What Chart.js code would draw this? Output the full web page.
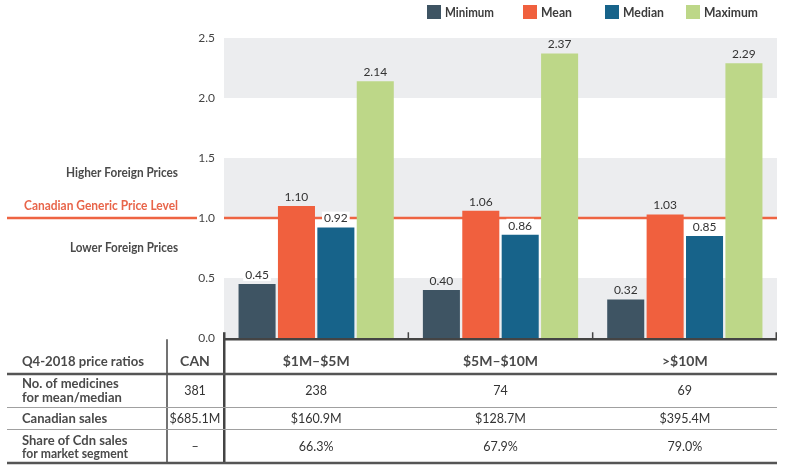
<!DOCTYPE html>
<html>
<head>
<meta charset="utf-8">
<script src="https://cdn.jsdelivr.net/npm/chart.js@4/dist/chart.umd.min.js"></script>
<style>
  html, body { margin: 0; padding: 0; background: #ffffff; }
  #wrap { width: 787px; height: 469px; position: relative; }
</style>
</head>
<body>
<div id="wrap"><canvas id="c" width="787" height="469"></canvas></div>
<script>
// ---------- data ----------
const categories = ['$1M–$5M', '$5M–$10M', '>$10M'];
const seriesNames = ['Minimum', 'Mean', 'Median', 'Maximum'];
const minimumValues = [0.45, 0.40, 0.32];
const meanValues = [1.10, 1.06, 1.03];
const medianValues = [0.92, 0.86, 0.85];
const maximumValues = [2.14, 2.37, 2.29];
const yTicks = [0.0, 0.5, 1.0, 1.5, 2.0, 2.5];
const referenceLevel = 1.0;

// table data
const tableHeader = 'Q4-2018 price ratios';
const canHeader = 'CAN';
const rowLabels = [['No. of medicines', 'for mean/median'], ['Canadian sales'], ['Share of Cdn sales', 'for market segment']];
const canValues = ['381', '$685.1M', '–'];
const medicineCounts = ['238', '74', '69'];
const canadianSales = ['$160.9M', '$128.7M', '$395.4M'];
const salesShares = ['66.3%', '67.9%', '79.0%'];

// ---------- styles ----------
const colors = ['#3E5463', '#F0603E', '#17638A', '#BDD788'];
const FONT = 'Lato, "Open Sans", sans-serif';
const bandColor = '#ECEDEF';
const lineColor = '#EE6442';
const darkText = '#4A4A4A';

const datasets = [minimumValues, meanValues, medianValues, maximumValues].map((vals, i) => ({
  label: seriesNames[i],
  data: vals,
  backgroundColor: colors[i],
  borderWidth: 0,
  categoryPercentage: 0.855,
  barPercentage: 0.94
}));

function inBand(v) {
  return (v >= 0 && v <= 0.5) || (v >= 1.0 && v <= 1.5) || (v >= 2.0 && v <= 2.5);
}

const backgroundPlugin = {
  id: 'bg',
  beforeDatasetsDraw(chart) {
    const ctx = chart.ctx, a = chart.chartArea, y = chart.scales.y;
    ctx.save();
    // gray bands
    ctx.fillStyle = bandColor;
    for (let i = 0; i < yTicks.length - 1; i += 2) {
      const y0 = y.getPixelForValue(yTicks[i]);
      const y1 = y.getPixelForValue(yTicks[i + 1]);
      ctx.fillRect(a.left, y1, a.right - a.left, y0 - y1);
    }
    // reference line
    const ly = y.getPixelForValue(referenceLevel);
    ctx.strokeStyle = lineColor;
    ctx.lineWidth = 2.5;
    ctx.beginPath();
    ctx.moveTo(7, ly); ctx.lineTo(a.left - 27, ly);
    ctx.moveTo(a.left, ly); ctx.lineTo(a.right, ly);
    ctx.stroke();
    // side annotations
    ctx.textAlign = 'right';
    ctx.textBaseline = 'middle';
    ctx.font = 'bold 13px ' + FONT;
    ctx.fillStyle = darkText;
    ctx.fillText('Higher Foreign Prices', 178, ly - 45, 112);
    ctx.fillText('Lower Foreign Prices', 178, ly + 30, 108);
    ctx.fillStyle = '#E8654A';
    ctx.fillText('Canadian Generic Price Level', 178, ly - 12, 154);
    ctx.restore();
  }
};

const overlayPlugin = {
  id: 'overlay',
  afterDatasetsDraw(chart) {
    const ctx = chart.ctx, a = chart.chartArea, y = chart.scales.y, x = chart.scales.x;
    ctx.save();
    // value labels
    ctx.font = '12px ' + FONT;
    ctx.textAlign = 'center';
    ctx.textBaseline = 'middle';
    chart.data.datasets.forEach((ds, di) => {
      const meta = chart.getDatasetMeta(di);
      meta.data.forEach((bar, i) => {
        const v = ds.data[i];
        const txt = v.toFixed(2);
        const ty = bar.y - 9;
        const tv = y.getValueForPixel(ty);
        if (!inBand(tv)) {
          const w = ctx.measureText(txt).width + 4;
          ctx.fillStyle = '#ffffff';
          ctx.fillRect(bar.x - w / 2, ty - 7, w, 13);
        }
        ctx.fillStyle = '#333333';
        ctx.fillText(txt, bar.x, ty);
      });
    });
    // x axis line with boundary ticks
    const base = y.getPixelForValue(0) + 1.2;
    ctx.strokeStyle = '#444444';
    ctx.lineWidth = 2.5;
    ctx.beginPath();
    ctx.moveTo(a.left, base); ctx.lineTo(a.right, base);
    ctx.stroke();
    ctx.lineWidth = 1.5;
    const n = categories.length;
    const cw = (a.right - a.left) / n;
    ctx.beginPath();
    for (let i = 1; i <= n; i++) {
      const tx = a.left + i * cw - (i === n ? 0.75 : 0);
      ctx.moveTo(tx, base); ctx.lineTo(tx, base - 7);
    }
    ctx.stroke();

    // ---------- table ----------
    const L = 7, R = a.right;
    const colCan = 195;
    const xCat = categories.map((c, i) => x.getPixelForValue(i));
    // vertical separators
    ctx.strokeStyle = '#444444';
    ctx.lineWidth = 1.5;
    ctx.beginPath(); ctx.moveTo(167, base); ctx.lineTo(167, 463); ctx.stroke();
    ctx.lineWidth = 2.5;
    ctx.beginPath(); ctx.moveTo(a.left + 0.25, base - 7); ctx.lineTo(a.left + 0.25, 463); ctx.stroke();
    // horizontal rules
    ctx.strokeStyle = '#555555';
    ctx.lineWidth = 2.5;
    ctx.beginPath(); ctx.moveTo(L, 374); ctx.lineTo(R, 374); ctx.stroke();
    ctx.beginPath(); ctx.moveTo(L, 463); ctx.lineTo(R, 463); ctx.stroke();
    ctx.strokeStyle = '#A0A0A0';
    ctx.lineWidth = 1;
    [407.5, 429.5].forEach(yy => { ctx.beginPath(); ctx.moveTo(L, yy); ctx.lineTo(R, yy); ctx.stroke(); });

    // header
    ctx.fillStyle = darkText;
    ctx.font = 'bold 14px ' + FONT;
    ctx.textAlign = 'left';
    ctx.fillText(tableHeader, 22, 361, 122);
    ctx.textAlign = 'center';
    ctx.fillText(canHeader, colCan, 361);
    categories.forEach((c, i) => ctx.fillText(c, xCat[i], 361));

    // row labels
    const rowY = [[384, 398], [419], [441, 454]];
    const rowCenter = [391, 419, 447];
    ctx.font = 'bold 13px ' + FONT;
    ctx.textAlign = 'left';
    rowLabels.forEach((lines, r) => {
      lines.forEach((t, k) => ctx.fillText(t, 22, rowY[r][k], 106));
    });
    // values
    ctx.font = '12.5px ' + FONT;
    ctx.fillStyle = '#333333';
    ctx.textAlign = 'center';
    canValues.forEach((t, r) => ctx.fillText(t, colCan, rowCenter[r], 52));
    [medicineCounts, canadianSales, salesShares].forEach((vals, r) => {
      vals.forEach((t, i) => ctx.fillText(t, xCat[i], rowCenter[r]));
    });

    // legend
    const legendX = [427, 523, 605, 686];
    const legendW = [49, 31, 41, 54];
    ctx.font = 'bold 13px ' + FONT;
    ctx.textAlign = 'left';
    chart.data.datasets.forEach((ds, i) => {
      ctx.fillStyle = ds.backgroundColor;
      ctx.fillRect(legendX[i], 5, 14, 14);
      ctx.fillStyle = '#3C3C3C';
      ctx.fillText(ds.label, legendX[i] + 18, 12.5, legendW[i]);
    });
    ctx.restore();
  }
};

new Chart(document.getElementById('c'), {
  type: 'bar',
  data: { labels: categories, datasets },
  options: {
    responsive: false,
    animation: false,
    devicePixelRatio: 1,
    layout: { padding: { top: 38, right: 10, bottom: 131, left: 0 } },
    plugins: { legend: { display: false }, tooltip: { enabled: false } },
    scales: {
      x: { display: false },
      y: {
        min: 0, max: 2.5,
        afterFit(scale) { scale.width = 224; },
        grid: { display: false, drawTicks: false },
        border: { display: false },
        ticks: {
          stepSize: 0.5,
          padding: 9,
          color: '#444444',
          font: { family: FONT, size: 12 },
          callback: v => Number(v).toFixed(1)
        }
      }
    }
  },
  plugins: [backgroundPlugin, overlayPlugin]
});
</script>
</body>
</html>
